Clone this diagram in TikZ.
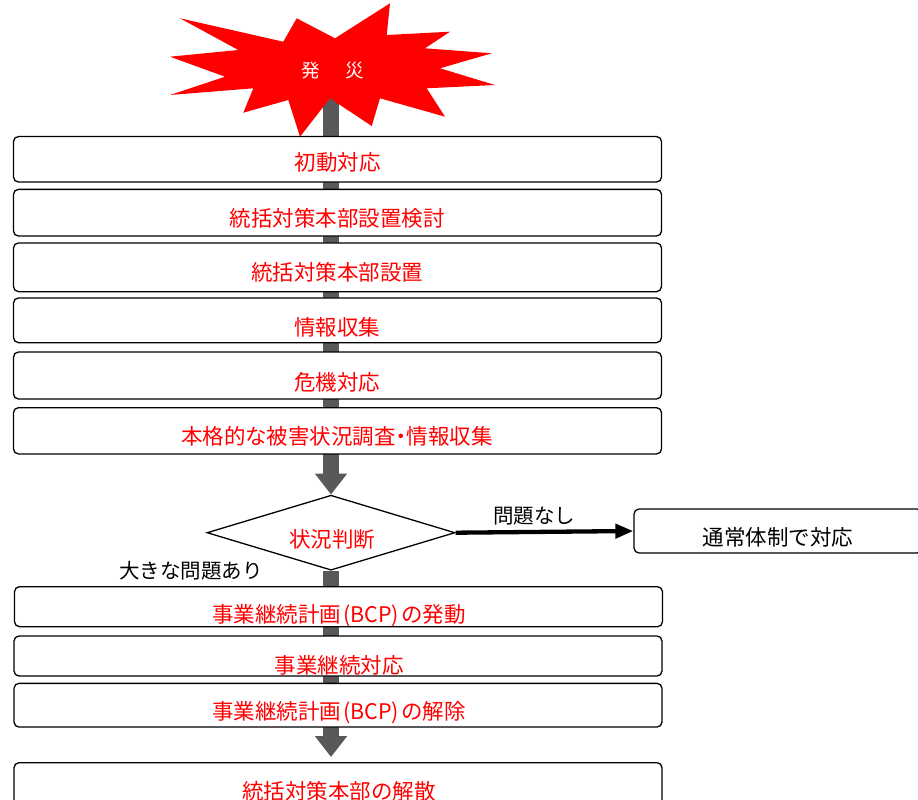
\documentclass[tikz,border=0pt]{standalone}
\usepackage{fontspec}
\setmainfont{Noto Sans CJK JP}
\usetikzlibrary{shapes.geometric,arrows.meta,backgrounds}
\definecolor{bargray}{HTML}{595959}
\definecolor{alertred}{HTML}{FF0000}
\begin{document}
\begin{tikzpicture}[x=1pt,y=-1pt,
  flowbox/.style={draw=black, line width=1.3pt, rounded corners=5pt, fill=white, minimum width=648pt, inner sep=0pt},
  redtxt/.style={text=alertred, font=\fontsize{21.5pt}{24pt}\selectfont, inner sep=0pt, text height=0.83em, text depth=0.07em, yshift=-4.3pt},
  blktxt/.style={redtxt, text=black},
  smalltxt/.style={blktxt, font=\fontsize{20.5pt}{24pt}\selectfont},
  bar/.style={draw=bargray, line width=16pt},
  bartip/.style={-{Triangle[width=31pt,length=21pt]}},
  okarrow/.style={draw=black, line width=4.3pt, -{Triangle[width=14pt,length=18pt]}}
]
\clip (0,0) rectangle (918,800);
% explosion
\fill[alertred] (180,18.3) -- (283.3,41.7) -- (296.7,18.3) -- (335,38.3) -- (390,3.3) -- (386.7,35)
  -- (450,31.7) -- (425,48.3) -- (491.7,53.3) -- (440,68.3) -- (495,85) -- (426.7,88.3)
  -- (445,116.7) -- (380,98.3) -- (371.7,126) -- (330,98.3) -- (300,136.7) -- (288.3,100)
  -- (243.3,112.7) -- (253.3,88.3) -- (170,95) -- (225,76.7) -- (170,56.7) -- (238.3,50) -- cycle;
\node[text=white, font=\fontsize{18.5pt}{20pt}\selectfont, inner sep=0pt, text height=0.83em, text depth=0.07em, yshift=-2.5pt] (star) at (333,71) {発\hspace{25.5pt}災};

% boxes
\node[flowbox, minimum height=45.5pt] (b1) at (337.5,159.3) {};
\node[flowbox, minimum height=46.7pt] (b2) at (337.5,212.7) {};
\node[flowbox, minimum height=48.7pt] (b3) at (337.5,267.3) {};
\node[flowbox, minimum height=44.7pt] (b4) at (337.5,320.3) {};
\node[flowbox, minimum height=47pt] (b5) at (337.5,375.5) {};
\node[flowbox, minimum height=46.3pt] (b6) at (337.5,430.8) {};
\node[flowbox, minimum height=40pt] (b7) at (338.5,606.7) {};
\node[flowbox, minimum height=40pt] (b8) at (338,656) {};
\node[flowbox, minimum height=43.7pt] (b9) at (338,705.2) {};
\node[flowbox, minimum height=54pt] (b10) at (338,789.7) {};

\node[redtxt] (t1) at (337.5,162.5) {初動対応};
\node[redtxt] (t2) at (337,218) {統括対策本部設置検討};
\node[redtxt] (t3) at (337,272.5) {統括対策本部設置};
\node[redtxt] (t4) at (337,327) {情報収集};
\node[redtxt] (t5) at (337,382) {危機対応};
\node[redtxt, font=\fontsize{21.5pt}{24pt}\selectfont\addfontfeature{RawFeature=+palt}] (t6) at (337,436) {本格的な被害状況調査・情報収集};
\node[redtxt] (t7) at (339,614) {事業継続計画\kern2pt(BCP)\kern2pt の発動};
\node[redtxt] (t8) at (339,665) {事業継続対応};
\node[redtxt] (t9) at (339,711) {事業継続計画\kern2pt(BCP)\kern2pt の解除};
\node[redtxt] (t10) at (339,791) {統括対策本部の解散};

% decision
\node[diamond, draw=black, line width=1.3pt, fill=white, minimum width=248pt, minimum height=75pt, inner sep=0pt] (dia) at (331,532.7) {};
\node[redtxt] (tdia) at (332,539) {状況判断};
\node[flowbox, minimum width=288pt, minimum height=44pt] (rb) at (778,531) {};
\node[blktxt] (trb) at (778,537.5) {通常体制で対応};
\node[smalltxt] (lno) at (534,515) {問題なし};
\node[smalltxt] (lbig) at (191,570) {大きな問題あり};

% connectors
\begin{scope}[on background layer]
  \draw[bar] (dia |- star) -- (b6.south -| dia);
  \draw[bar] (dia.south) -- (b9.south -| dia);
\end{scope}
\draw[bar, bartip] (b6.south -| dia) -- (dia.north);
\draw[bar, bartip, shorten >=5pt] (b9.south -| dia) -- (b10.north -| dia);
\draw[okarrow] (dia.east) -- (rb.west);
\end{tikzpicture}
\end{document}
